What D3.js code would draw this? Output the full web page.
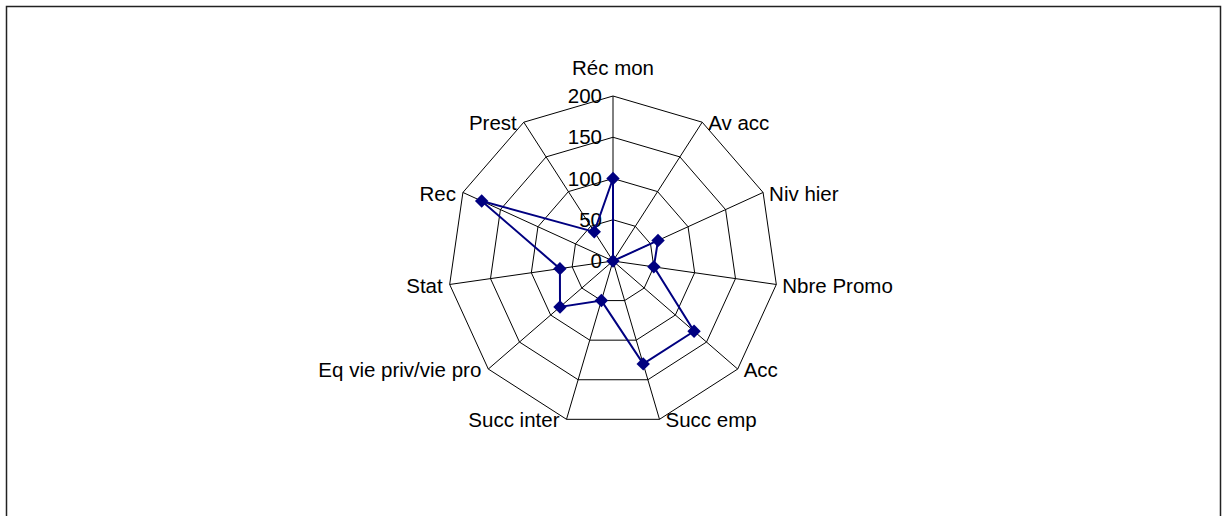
<!DOCTYPE html>
<html>
<head>
<meta charset="utf-8">
<script src="https://cdn.jsdelivr.net/npm/d3@7"></script>
<style>
  body { margin: 0; background: #fff; }
  text { font-family: Arial, "Liberation Sans", sans-serif; font-size: 20.5px; fill: #000; }
</style>
</head>
<body>
<div id="chart"></div>
<script>
// categories, clockwise from top
var categories = ["Réc mon", "Av acc", "Niv hier", "Nbre Promo", "Acc", "Succ emp",
                  "Succ inter", "Eq vie priv/vie pro", "Stat", "Rec", "Prest"];
var values = [100, 0, 60, 50, 130, 130, 50, 85, 65, 175, 42];
var ticks = [0, 50, 100, 150, 200];

var width = 1222, height = 516;
var cx = 613, cy = 261, radius = 165;

var svg = d3.select("#chart").append("svg")
    .attr("width", width)
    .attr("height", height);

// outer frame (bottom edge runs off the picture)
svg.append("path")
    .attr("d", "M6.5,530 V6.5 H1220.5 V530")
    .attr("fill", "none")
    .attr("stroke", "#222")
    .attr("stroke-width", 1.5);

var r = d3.scaleLinear().domain([0, 200]).range([0, radius]);
var step = 2 * Math.PI / categories.length;
function angle(i) { return i * step; }
function pt(i, v) {
    var a = angle(i);
    return [cx + r(v) * Math.sin(a), cy - r(v) * Math.cos(a)];
}

var g = svg.append("g");

// rings
ticks.filter(function(t) { return t > 0; }).forEach(function(t) {
    g.append("path")
        .attr("d", d3.line()(categories.map(function(c, i) { return pt(i, t); })) + "Z")
        .attr("fill", "none")
        .attr("stroke", "#000")
        .attr("stroke-width", 1);
});

// spokes
g.selectAll("line.spoke")
    .data(categories)
    .enter()
    .append("line")
    .attr("class", "spoke")
    .attr("x1", cx).attr("y1", cy)
    .attr("x2", function(d, i) { return pt(i, 200)[0]; })
    .attr("y2", function(d, i) { return pt(i, 200)[1]; })
    .attr("stroke", "#000")
    .attr("stroke-width", 1);

// tick labels
g.selectAll("text.tick")
    .data(ticks)
    .enter()
    .append("text")
    .attr("class", "tick")
    .attr("x", cx - 11)
    .attr("y", function(d) { return cy - r(d); })
    .attr("dy", "0.35em")
    .attr("text-anchor", "end")
    .text(function(d) { return d; });

// category labels
g.selectAll("text.cat")
    .data(categories)
    .enter()
    .append("text")
    .attr("class", "cat")
    .attr("x", function(d, i) {
        var p = pt(i, 200), s = Math.sin(angle(i));
        if (Math.abs(s) < 0.1) return p[0];
        return s > 0 ? p[0] + 6 : p[0] - 7;
    })
    .attr("y", function(d, i) {
        var p = pt(i, 200);
        if (i === 0) return p[1] - 28;
        return p[1] + 1;
    })
    .attr("dy", "0.35em")
    .attr("text-anchor", function(d, i) {
        var s = Math.sin(angle(i));
        if (Math.abs(s) < 0.1) return "middle";
        return s > 0 ? "start" : "end";
    })
    .text(function(d) { return d; });

// data series
var pts = values.map(function(v, i) { return pt(i, v); });
g.append("path")
    .attr("d", d3.line()(pts) + "Z")
    .attr("fill", "none")
    .attr("stroke", "#000080")
    .attr("stroke-width", 2);

g.selectAll("path.marker")
    .data(pts)
    .enter()
    .append("path")
    .attr("class", "marker")
    .attr("d", d3.symbol().type(d3.symbolSquare).size(90))
    .attr("transform", function(d) { return "translate(" + d[0] + "," + d[1] + ") rotate(45)"; })
    .attr("fill", "#000080");
</script>
</body>
</html>
